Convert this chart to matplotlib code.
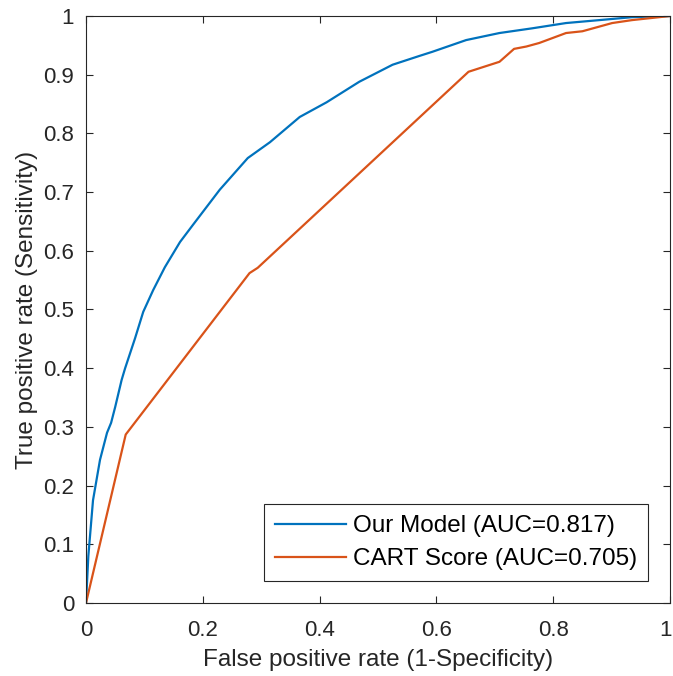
import matplotlib
matplotlib.use("Agg")
import matplotlib.pyplot as plt
from matplotlib.transforms import ScaledTranslation

plt.rcParams['font.family'] = ['Liberation Sans', 'DejaVu Sans']

model_fpr = [0.0, 0.004, 0.012, 0.024, 0.036, 0.043, 0.050, 0.061, 0.067, 0.084, 0.098,
             0.115, 0.135, 0.161, 0.183, 0.229, 0.277, 0.315, 0.366, 0.412, 0.468,
             0.525, 0.571, 0.593, 0.651, 0.708, 0.764, 0.822, 0.879, 0.935, 1.0]
model_tpr = [0.0, 0.08, 0.175, 0.244, 0.290, 0.307, 0.334, 0.380, 0.400, 0.451, 0.496,
             0.533, 0.572, 0.615, 0.644, 0.704, 0.758, 0.785, 0.828, 0.853, 0.888,
             0.917, 0.932, 0.939, 0.959, 0.971, 0.979, 0.988, 0.993, 0.998, 1.0]

cart_fpr = [0.0, 0.068, 0.280, 0.294, 0.655, 0.708, 0.733, 0.754, 0.776, 0.822,
            0.850, 0.901, 0.935, 1.0]
cart_tpr = [0.0, 0.287, 0.562, 0.571, 0.905, 0.922, 0.944, 0.948, 0.954, 0.971,
            0.974, 0.988, 0.993, 1.0]

labels = ["Our Model (AUC=0.817)", "CART Score (AUC=0.705)"]
ticks = [0, 0.2, 0.4, 0.6, 0.8, 1]
tick_labels = ["0", "0.2", "0.4", "0.6", "0.8", "1"]
yticks = [0, 0.1, 0.2, 0.3, 0.4, 0.5, 0.6, 0.7, 0.8, 0.9, 1]
ytick_labels = ["0", "0.1", "0.2", "0.3", "0.4", "0.5", "0.6", "0.7", "0.8", "0.9", "1"]

fig = plt.figure(figsize=(6.73, 6.76), dpi=100)
ax = fig.add_axes([86/673, 73/676, 584/673, 587/676])
ax.plot(model_fpr, model_tpr, color='#0072BD', lw=1.6, label=labels[0])
ax.plot(cart_fpr, cart_tpr, color='#D95319', lw=1.6, label=labels[1])
ax.set_xlim(0, 1)
ax.set_ylim(0, 1)
ax.set_xticks(ticks)
ax.set_xticklabels(tick_labels)
ax.set_yticks(yticks)
ax.set_yticklabels(ytick_labels)
ax.tick_params(direction='in', length=5, width=0.8, top=True, right=True,
               labelsize=16, colors='#262626')
ax.tick_params(axis='x', pad=12)
ax.tick_params(axis='y', pad=8.5)
last = ax.get_xticklabels()[-1]
last.set_transform(last.get_transform() + ScaledTranslation(-3/72, 0, fig.dpi_scale_trans))
for s in ax.spines.values():
    s.set_color('#262626')
    s.set_linewidth(0.8)
ax.set_xlabel("False positive rate (1-Specificity)", fontsize=17.5, color='#262626', labelpad=6)
ax.set_ylabel("True positive rate (Sensitivity)", fontsize=17.5, color='#262626', labelpad=4)
leg = ax.legend(loc='lower right', fontsize=17.5, handlelength=2.9, fancybox=False,
                framealpha=1, edgecolor='#262626', borderaxespad=0.9,
                borderpad=0.45, labelspacing=0.45, handletextpad=0.3)
leg.get_frame().set_linewidth(0.8)
fig.savefig("out.png", dpi=100)
